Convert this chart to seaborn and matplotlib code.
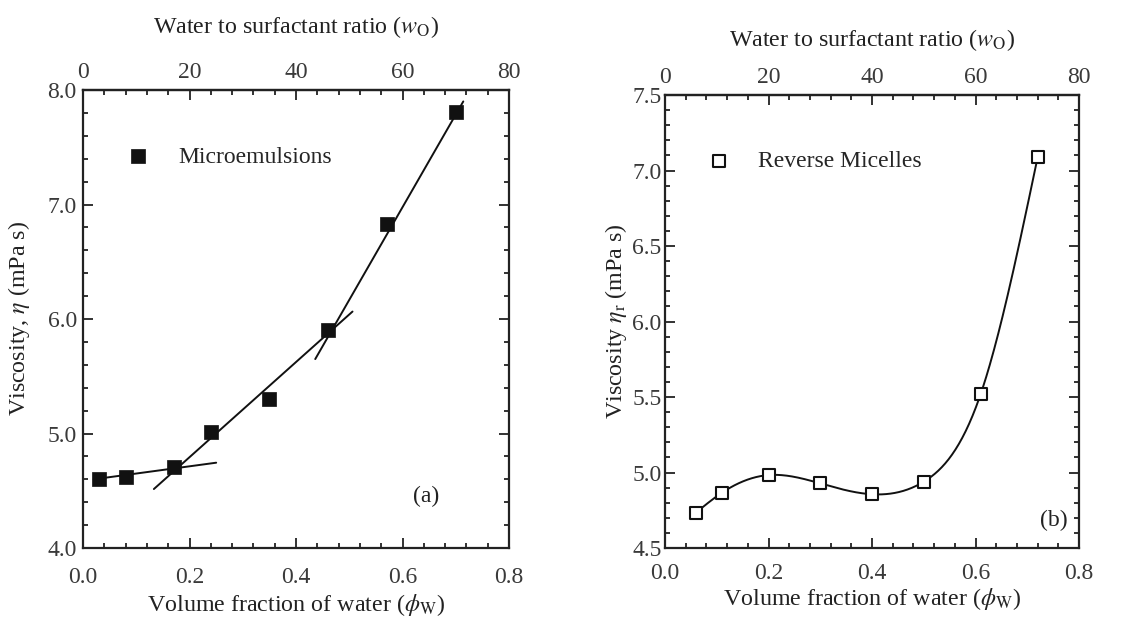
import numpy as np
import pandas as pd
import matplotlib
matplotlib.use("Agg")
import matplotlib.pyplot as plt
import seaborn as sns
from matplotlib.ticker import MultipleLocator

# ---------------- data ----------------
# (a) Microemulsions
phi_a = [0.03, 0.08, 0.17, 0.24, 0.35, 0.46, 0.57, 0.70]
eta_a = [4.60, 4.62, 4.71, 5.01, 5.30, 5.90, 6.83, 7.81]
# fitted straight segments (x0, x1), (y0, y1)
fit1_x = [0.02, 0.25]
fit1_y = [4.60, 4.745]
fit2_x = [0.133, 0.506]
fit2_y = [4.515, 6.065]
fit3_x = [0.436, 0.714]
fit3_y = [5.65, 7.90]

# (b) Reverse micelles
phi_b = [0.06, 0.11, 0.20, 0.30, 0.40, 0.50, 0.61, 0.72]
eta_b = [4.735, 4.866, 4.983, 4.928, 4.856, 4.939, 5.52, 7.087]

xticks = [0.0, 0.2, 0.4, 0.6, 0.8]
top_ticks = [0, 20, 40, 60, 80]
yticks_a = [4.0, 5.0, 6.0, 7.0, 8.0]
yticks_b = [4.5, 5.0, 5.5, 6.0, 6.5, 7.0, 7.5]


def natural_spline(x, y, n=400):
    x = np.asarray(x, float)
    y = np.asarray(y, float)
    m = len(x)
    h = np.diff(x)
    A = np.zeros((m, m))
    r = np.zeros(m)
    A[0, 0] = 1
    A[-1, -1] = 1
    for i in range(1, m - 1):
        A[i, i - 1] = h[i - 1]
        A[i, i] = 2 * (h[i - 1] + h[i])
        A[i, i + 1] = h[i]
        r[i] = 3 * ((y[i + 1] - y[i]) / h[i] - (y[i] - y[i - 1]) / h[i - 1])
    c = np.linalg.solve(A, r)
    xs = np.linspace(x[0], x[-1], n)
    ys = np.empty_like(xs)
    for k, xv in enumerate(xs):
        i = min(np.searchsorted(x, xv, side="right") - 1, m - 2)
        dx = xv - x[i]
        b = (y[i + 1] - y[i]) / h[i] - h[i] * (2 * c[i] + c[i + 1]) / 3
        d = (c[i + 1] - c[i]) / (3 * h[i])
        ys[k] = y[i] + b * dx + c[i] * dx ** 2 + d * dx ** 3
    return xs, ys


# ---------------- style ----------------
sns.set_theme(style="ticks")
plt.rcParams["font.family"] = ["Liberation Serif", "DejaVu Serif"]
plt.rcParams["mathtext.fontset"] = "stix"
plt.rcParams["axes.linewidth"] = 1.6
plt.rcParams["axes.edgecolor"] = "#222222"

TICK_FS = 17
LAB_FS = 17.3
LEG_FS = 17

fig = plt.figure(figsize=(11.44, 6.19), dpi=100)
ax1 = fig.add_axes([0.0726, 0.1147, 0.3724, 0.7399])
ax2 = fig.add_axes([0.5813, 0.1147, 0.3619, 0.7318])


def style_axis(ax, ylim, yticks, yminor, xpad, ypad, toppad, xlabpad, ylabpad, toplabpad, ylabel):
    ax.set_xlim(0, 0.8)
    ax.set_ylim(*ylim)
    ax.set_xticks(xticks)
    ax.xaxis.set_minor_locator(MultipleLocator(0.04))
    ax.set_yticks(yticks)
    ax.yaxis.set_minor_locator(MultipleLocator(yminor))
    ax.tick_params(which="both", direction="in", right=True, top=False,
                   colors="#222222", labelcolor="#3a3a3a", width=1.3)
    ax.tick_params(which="major", length=7, labelsize=TICK_FS)
    ax.tick_params(which="minor", length=3.5)
    ax.tick_params(axis="x", which="major", pad=xpad)
    ax.tick_params(axis="y", which="major", pad=ypad)
    ax.set_xticklabels([f"{v:.1f}" for v in xticks])
    ax.set_yticklabels([f"{v:.1f}" for v in yticks])
    ax.set_xlabel(r"Volume fraction of water ($\phi_{\mathrm{W}}$)", fontsize=LAB_FS,
                  color="#222222", labelpad=xlabpad)
    ax.set_ylabel(ylabel, fontsize=LAB_FS, color="#222222", labelpad=ylabpad)
    sec = ax.secondary_xaxis("top", functions=(lambda v: v * 100, lambda v: v / 100))
    sec.set_xticks(top_ticks)
    sec.xaxis.set_minor_locator(MultipleLocator(4))
    sec.tick_params(which="both", direction="in", colors="#222222",
                    labelcolor="#3a3a3a", width=1.3)
    sec.tick_params(which="major", length=7, labelsize=TICK_FS, pad=toppad)
    sec.tick_params(which="minor", length=3.5)
    sec.set_xlabel(r"Water to surfactant ratio ($w_{\mathrm{O}}$)", fontsize=LAB_FS,
                   color="#222222", labelpad=toplabpad)
    for s in ax.spines.values():
        s.set_visible(True)
    return sec


# ---------------- panel (a) ----------------
style_axis(ax1, (4.0, 8.0), yticks_a, 0.2, xpad=13.5, ypad=4.5, toppad=5,
           xlabpad=3, ylabpad=11, toplabpad=21,
           ylabel=r"Viscosity, $\eta$ (mPa s)")
for fx, fy in [(fit1_x, fit1_y), (fit2_x, fit2_y), (fit3_x, fit3_y)]:
    sns.lineplot(x=fx, y=fy, ax=ax1, color="#111111", linewidth=1.4,
                 sort=False, estimator=None)
sns.scatterplot(x=phi_a, y=eta_a, ax=ax1, marker="s", s=95, color="#111111",
                edgecolor="#111111", linewidth=0.5, label="Microemulsions", zorder=5)
ax1.legend(loc="center left", bbox_to_anchor=(0.101, 0.854), frameon=False,
           fontsize=LEG_FS, handlelength=1.0, handletextpad=1.2,
           borderpad=0, borderaxespad=0, markerscale=1.0)
ax1.text(0.62, 4.45, "(a)", fontsize=LEG_FS, color="#222222", ha="left", va="center")

# ---------------- panel (b) ----------------
style_axis(ax2, (4.5, 7.5), yticks_b, 0.1, xpad=11, ypad=2.5, toppad=5,
           xlabpad=1.5, ylabpad=2, toplabpad=15,
           ylabel=r"Viscosity $\eta_{\mathrm{r}}$ (mPa s)")
xs, ys = natural_spline(phi_b, eta_b)
sns.lineplot(x=xs, y=ys, ax=ax2, color="#111111", linewidth=1.4,
             sort=False, estimator=None)
sns.scatterplot(x=phi_b, y=eta_b, ax=ax2, marker="s", s=70, facecolor="white",
                edgecolor="#111111", linewidth=1.5, label="Reverse Micelles", zorder=5)
ax2.legend(loc="center left", bbox_to_anchor=(0.102, 0.853), frameon=False,
           fontsize=LEG_FS, handlelength=1.0, handletextpad=1.15,
           borderpad=0, borderaxespad=0)
ax2.text(0.725, 4.685, "(b)", fontsize=LEG_FS, color="#222222", ha="left", va="center")

fig.savefig("out.png", dpi=100, facecolor="white")
